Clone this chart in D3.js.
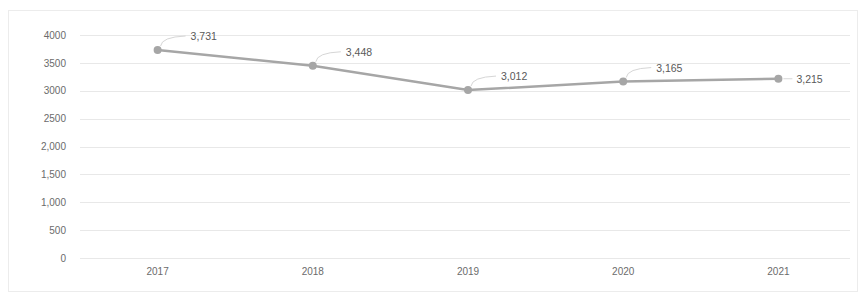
<!DOCTYPE html>
<html>
<head>
<meta charset="utf-8">
<script src="https://cdn.jsdelivr.net/npm/d3@7"></script>
<style>
    body { margin: 0; background: #fff; }
    svg { display: block; font-family: "Liberation Sans", Arial, sans-serif; }
</style>
</head>
<body>
<svg width="863" height="295"></svg>
<script>
const years = ["2017", "2018", "2019", "2020", "2021"];
const values = [3731, 3448, 3012, 3165, 3215];
const yTicks = [0, 500, 1000, 1500, 2000, 2500, 3000, 3500, 4000];
const yTickLabels = ["0", "500", "1,000", "1,500", "2,000", "2500", "3000", "3500", "4000"];

const svg = d3.select("svg"),
    width = +svg.attr("width"),
    height = +svg.attr("height");

const margin = {top: 35, right: 7, bottom: 37, left: 80};

svg.append("rect")
    .attr("x", 8.5).attr("y", 10.5)
    .attr("width", width - 14).attr("height", height - 14)
    .attr("fill", "none")
    .attr("stroke", "#ececec");

const x = d3.scaleBand()
    .domain(years)
    .range([margin.left, width - margin.right]);

const y = d3.scaleLinear()
    .domain([0, 4000])
    .range([height - margin.bottom, margin.top]);

// grid
svg.append("g")
    .selectAll("line")
    .data(yTicks)
    .enter().append("line")
    .attr("x1", margin.left)
    .attr("x2", width - margin.right - 6)
    .attr("y1", function (d) { return Math.round(y(d)) + 0.5; })
    .attr("y2", function (d) { return Math.round(y(d)) + 0.5; })
    .attr("stroke", "#e8e8e8");

const yAxis = svg.append("g")
    .attr("transform", "translate(" + (margin.left - 14) + ",0)")
    .call(d3.axisLeft(y).tickValues(yTicks)
        .tickFormat(function (d, i) { return yTickLabels[i]; })
        .tickSize(0).tickPadding(0));
yAxis.select(".domain").remove();
yAxis.selectAll("text").attr("fill", "#6b6b6b").attr("font-size", 10);

const xAxis = svg.append("g")
    .attr("transform", "translate(0," + (height - margin.bottom) + ")")
    .call(d3.axisBottom(x).tickSize(0).tickPadding(10));
xAxis.select(".domain").remove();
xAxis.selectAll("text").attr("fill", "#6b6b6b").attr("font-size", 10);

const data = years.map(function (d, i) { return {year: d, value: values[i]}; });
const cx = function (d) { return x(d.year) + x.bandwidth() / 2; };

svg.append("path")
    .datum(data)
    .attr("fill", "none")
    .attr("stroke", "#a6a6a6")
    .attr("stroke-width", 2.5)
    .attr("d", d3.line().x(cx).y(function (d) { return y(d.value); }));

svg.append("g")
    .selectAll("circle")
    .data(data)
    .enter().append("circle")
    .attr("cx", cx)
    .attr("cy", function (d) { return y(d.value); })
    .attr("r", 4)
    .attr("fill", "#a6a6a6");

// data callouts
const fmt = d3.format(",");
const callout = svg.append("g")
    .selectAll("g")
    .data(data)
    .enter().append("g");

callout.append("path")
    .attr("fill", "none")
    .attr("stroke", "#d6d6d6")
    .attr("d", function (d, i) {
        const px = cx(d), py = y(d.value);
        if (i === data.length - 1) {
            return "M" + (px + 5) + "," + py + "L" + (px + 14) + "," + py;
        }
        return "M" + (px + 3) + "," + (py - 4) + "Q" + (px + 4) + "," + (py - 13) +
            " " + (px + 28) + "," + (py - 14);
    });

callout.append("text")
    .attr("x", function (d, i) {
        return i === data.length - 1 ? cx(d) + 18 : cx(d) + 33;
    })
    .attr("y", function (d, i) {
        return i === data.length - 1 ? y(d.value) + 4 : y(d.value) - 10;
    })
    .attr("fill", "#595959")
    .attr("font-size", 10.5)
    .text(function (d) { return fmt(d.value); });
</script>
</body>
</html>
